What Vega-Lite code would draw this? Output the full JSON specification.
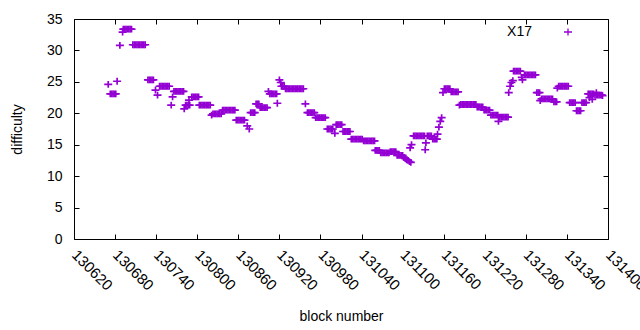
{
"$schema":"https://vega.github.io/schema/vega-lite/v6.json",
"width":534,"height":220,"autosize":"none",
"padding":{"left":74,"top":19,"right":32,"bottom":91},
"background":"white",
"config":{"view":{"stroke":"black","strokeWidth":1},"font":"Liberation Sans",
"axis":{"grid":false,"domain":false,"tickColor":"black","tickSize":-5,"labelColor":"black","titleColor":"black","labelFont":"Liberation Sans","titleFont":"Liberation Sans","labelFontSize":14,"titleFontSize":14,"titleFontWeight":"normal","labelOverlap":false,"labelFlush":false,"labelBound":false}},
"data":{"values":[
{"b":130670,"d":24.6},
{"b":130673,"d":23.1},{"b":130675,"d":23.1},{"b":130677,"d":23.1},{"b":130679,"d":23.1},{"b":130681,"d":23.1},
{"b":130683,"d":25.1},{"b":130687,"d":30.8},{"b":130691,"d":32.9},
{"b":130692,"d":33.4},{"b":130694,"d":33.4},{"b":130696,"d":33.4},{"b":130698,"d":33.4},{"b":130700,"d":33.4},{"b":130702,"d":33.4},{"b":130704,"d":33.4},
{"b":130706,"d":30.9},{"b":130708,"d":30.9},{"b":130710,"d":30.9},{"b":130712,"d":30.9},{"b":130714,"d":30.9},{"b":130716,"d":30.9},{"b":130718,"d":30.9},{"b":130720,"d":30.9},{"b":130722,"d":30.9},{"b":130724,"d":30.9},
{"b":130728,"d":25.3},{"b":130730,"d":25.3},{"b":130732,"d":25.3},{"b":130734,"d":25.3},{"b":130736,"d":25.3},
{"b":130739,"d":23.7},{"b":130742,"d":22.9},
{"b":130745,"d":24.3},{"b":130747,"d":24.3},{"b":130749,"d":24.3},{"b":130751,"d":24.3},{"b":130753,"d":24.3},{"b":130755,"d":24.3},{"b":130757,"d":24.3},{"b":130759,"d":24.3},
{"b":130762,"d":21.3},{"b":130764,"d":22.6},
{"b":130766,"d":23.5},{"b":130768,"d":23.5},{"b":130770,"d":23.5},{"b":130772,"d":23.5},{"b":130774,"d":23.5},{"b":130776,"d":23.5},{"b":130778,"d":23.5},{"b":130780,"d":23.5},
{"b":130781,"d":20.7},
{"b":130783,"d":21.3},{"b":130785,"d":21.3},{"b":130787,"d":21.3},{"b":130789,"d":21.3},
{"b":130788,"d":22.1},
{"b":130792,"d":22.6},{"b":130794,"d":22.6},{"b":130796,"d":22.6},{"b":130798,"d":22.6},{"b":130800,"d":22.6},{"b":130802,"d":22.6},
{"b":130803,"d":21.3},{"b":130805,"d":21.3},{"b":130807,"d":21.3},{"b":130809,"d":21.3},{"b":130811,"d":21.3},{"b":130813,"d":21.3},{"b":130815,"d":21.3},{"b":130817,"d":21.3},{"b":130819,"d":21.3},
{"b":130821,"d":19.7},
{"b":130823,"d":19.9},{"b":130825,"d":19.9},{"b":130827,"d":19.9},{"b":130829,"d":19.9},{"b":130831,"d":19.9},{"b":130833,"d":19.9},{"b":130835,"d":19.9},
{"b":130837,"d":20.5},{"b":130839,"d":20.5},{"b":130841,"d":20.5},{"b":130843,"d":20.5},{"b":130845,"d":20.5},{"b":130847,"d":20.5},{"b":130849,"d":20.5},{"b":130851,"d":20.5},{"b":130853,"d":20.5},{"b":130855,"d":20.5},
{"b":130857,"d":18.9},{"b":130859,"d":18.9},{"b":130861,"d":18.9},{"b":130863,"d":18.9},{"b":130865,"d":18.9},{"b":130867,"d":18.9},{"b":130869,"d":18.9},
{"b":130873,"d":18.0},{"b":130876,"d":17.5},
{"b":130878,"d":20.1},{"b":130880,"d":20.1},{"b":130882,"d":20.1},{"b":130884,"d":20.1},
{"b":130886,"d":21.5},{"b":130888,"d":21.5},{"b":130890,"d":21.5},
{"b":130892,"d":20.9},{"b":130894,"d":20.9},{"b":130896,"d":20.9},{"b":130898,"d":20.9},{"b":130900,"d":20.9},{"b":130902,"d":20.9},
{"b":130904,"d":23.5},
{"b":130906,"d":23.1},{"b":130908,"d":23.1},{"b":130910,"d":23.1},{"b":130912,"d":23.1},{"b":130914,"d":23.1},{"b":130916,"d":23.1},
{"b":130917,"d":21.6},{"b":130920,"d":25.3},{"b":130922,"d":24.9},
{"b":130923,"d":24.3},{"b":130925,"d":24.3},{"b":130927,"d":24.3},
{"b":130929,"d":23.9},{"b":130931,"d":23.9},{"b":130933,"d":23.9},{"b":130935,"d":23.9},{"b":130937,"d":23.9},{"b":130939,"d":23.9},{"b":130941,"d":23.9},{"b":130943,"d":23.9},{"b":130945,"d":23.9},{"b":130947,"d":23.9},{"b":130949,"d":23.9},{"b":130951,"d":23.9},{"b":130953,"d":23.9},{"b":130955,"d":23.9},
{"b":130958,"d":21.5},
{"b":130961,"d":20.1},{"b":130963,"d":20.1},{"b":130965,"d":20.1},{"b":130967,"d":20.1},{"b":130969,"d":20.1},{"b":130971,"d":20.1},
{"b":130973,"d":19.3},{"b":130975,"d":19.3},{"b":130977,"d":19.3},{"b":130979,"d":19.3},{"b":130981,"d":19.3},{"b":130983,"d":19.3},{"b":130985,"d":19.3},{"b":130987,"d":19.3},
{"b":130990,"d":17.5},{"b":130992,"d":17.5},{"b":130994,"d":17.5},{"b":130996,"d":17.5},{"b":130998,"d":17.5},
{"b":131001,"d":16.8},
{"b":131003,"d":18.2},{"b":131005,"d":18.2},{"b":131007,"d":18.2},{"b":131009,"d":18.2},{"b":131011,"d":18.2},
{"b":131013,"d":17.1},{"b":131015,"d":17.1},{"b":131017,"d":17.1},{"b":131019,"d":17.1},{"b":131021,"d":17.1},{"b":131023,"d":17.1},
{"b":131025,"d":15.9},{"b":131027,"d":15.9},{"b":131029,"d":15.9},{"b":131031,"d":15.9},{"b":131033,"d":15.9},{"b":131035,"d":15.9},{"b":131037,"d":15.9},{"b":131039,"d":15.9},{"b":131041,"d":15.9},
{"b":131043,"d":15.6},{"b":131045,"d":15.6},{"b":131047,"d":15.6},{"b":131049,"d":15.6},{"b":131051,"d":15.6},{"b":131053,"d":15.6},{"b":131055,"d":15.6},{"b":131057,"d":15.6},{"b":131059,"d":15.6},
{"b":131060,"d":14.1},{"b":131062,"d":14.1},{"b":131064,"d":14.1},{"b":131066,"d":14.1},
{"b":131068,"d":13.7},{"b":131070,"d":13.7},{"b":131072,"d":13.7},{"b":131074,"d":13.7},{"b":131076,"d":13.7},{"b":131078,"d":13.7},{"b":131080,"d":13.7},
{"b":131082,"d":13.9},{"b":131084,"d":13.9},{"b":131086,"d":13.9},{"b":131088,"d":13.9},{"b":131090,"d":13.9},
{"b":131092,"d":13.3},{"b":131094,"d":13.3},{"b":131096,"d":13.3},{"b":131098,"d":13.3},{"b":131100,"d":13.3},
{"b":131102,"d":13.0},{"b":131104,"d":12.8},{"b":131106,"d":12.6},{"b":131108,"d":12.5},{"b":131110,"d":12.3},{"b":131112,"d":12.2},
{"b":131111,"d":14.5},{"b":131113,"d":15.0},
{"b":131116,"d":16.4},{"b":131118,"d":16.4},{"b":131120,"d":16.4},{"b":131122,"d":16.4},{"b":131124,"d":16.4},{"b":131126,"d":16.4},{"b":131128,"d":16.4},{"b":131130,"d":16.4},{"b":131132,"d":16.4},
{"b":131133,"d":14.2},{"b":131134,"d":15.3},
{"b":131136,"d":16.4},{"b":131138,"d":16.4},{"b":131140,"d":16.4},{"b":131142,"d":16.4},
{"b":131144,"d":15.9},{"b":131146,"d":15.9},{"b":131148,"d":15.9},{"b":131150,"d":15.9},
{"b":131151,"d":16.7},{"b":131153,"d":17.8},{"b":131155,"d":18.7},{"b":131157,"d":19.3},
{"b":131159,"d":23.3},
{"b":131161,"d":23.9},{"b":131163,"d":23.9},{"b":131165,"d":23.9},{"b":131167,"d":23.9},{"b":131169,"d":23.9},
{"b":131171,"d":23.4},{"b":131173,"d":23.4},{"b":131175,"d":23.4},{"b":131177,"d":23.4},{"b":131179,"d":23.4},{"b":131181,"d":23.4},
{"b":131183,"d":21.3},
{"b":131185,"d":21.4},{"b":131187,"d":21.4},{"b":131189,"d":21.4},{"b":131191,"d":21.4},{"b":131193,"d":21.4},{"b":131195,"d":21.4},{"b":131197,"d":21.4},{"b":131199,"d":21.4},{"b":131201,"d":21.4},{"b":131203,"d":21.4},{"b":131205,"d":21.4},{"b":131207,"d":21.4},
{"b":131209,"d":21.0},{"b":131211,"d":21.0},{"b":131213,"d":21.0},{"b":131215,"d":21.0},{"b":131217,"d":21.0},
{"b":131219,"d":20.5},{"b":131221,"d":20.5},{"b":131223,"d":20.5},{"b":131225,"d":20.5},{"b":131227,"d":20.5},
{"b":131229,"d":19.7},{"b":131231,"d":19.7},{"b":131233,"d":19.7},{"b":131235,"d":19.7},{"b":131237,"d":19.7},{"b":131239,"d":19.7},
{"b":131240,"d":18.7},
{"b":131242,"d":19.4},{"b":131244,"d":19.4},{"b":131246,"d":19.4},{"b":131248,"d":19.4},{"b":131250,"d":19.4},{"b":131252,"d":19.4},{"b":131254,"d":19.4},
{"b":131255,"d":23.3},{"b":131257,"d":24.3},{"b":131259,"d":24.9},{"b":131261,"d":25.2},
{"b":131262,"d":26.7},{"b":131264,"d":26.7},{"b":131266,"d":26.7},{"b":131268,"d":26.7},{"b":131270,"d":26.7},{"b":131272,"d":26.7},
{"b":131274,"d":25.7},{"b":131275,"d":25.3},
{"b":131278,"d":26.1},{"b":131280,"d":26.1},{"b":131282,"d":26.1},{"b":131284,"d":26.1},{"b":131286,"d":26.1},{"b":131288,"d":26.1},{"b":131290,"d":26.1},{"b":131292,"d":26.1},{"b":131294,"d":26.1},
{"b":131296,"d":23.3},{"b":131298,"d":23.3},{"b":131300,"d":23.3},
{"b":131301,"d":22.0},
{"b":131303,"d":22.3},{"b":131305,"d":22.3},{"b":131307,"d":22.3},{"b":131309,"d":22.3},{"b":131311,"d":22.3},{"b":131313,"d":22.3},{"b":131315,"d":22.3},{"b":131317,"d":22.3},{"b":131319,"d":22.3},
{"b":131321,"d":21.8},{"b":131323,"d":21.8},{"b":131325,"d":21.8},
{"b":131326,"d":24.0},
{"b":131328,"d":24.3},{"b":131330,"d":24.3},{"b":131332,"d":24.3},{"b":131334,"d":24.3},{"b":131336,"d":24.3},{"b":131338,"d":24.3},{"b":131340,"d":24.3},{"b":131342,"d":24.3},
{"b":131344,"d":21.7},{"b":131346,"d":21.7},{"b":131348,"d":21.7},{"b":131350,"d":21.7},{"b":131352,"d":21.7},
{"b":131354,"d":20.4},{"b":131356,"d":20.4},{"b":131358,"d":20.4},{"b":131360,"d":20.4},
{"b":131362,"d":21.7},{"b":131364,"d":21.7},{"b":131366,"d":21.7},{"b":131368,"d":21.7},
{"b":131371,"d":23.1},{"b":131373,"d":23.1},{"b":131375,"d":23.1},{"b":131377,"d":23.1},{"b":131379,"d":23.1},
{"b":131373,"d":22.5},{"b":131377,"d":22.2},
{"b":131381,"d":22.9},{"b":131383,"d":22.9},{"b":131385,"d":22.9},{"b":131387,"d":22.9},{"b":131389,"d":22.9},{"b":131391,"d":22.9},
{"b":131383,"d":23.3},{"b":131392,"d":22.8}
]},
"layer":[
{"mark":{"type":"point","shape":"M-1,0H1M0,-0.85V0.85","filled":false,"size":64,"strokeWidth":1.7,"opacity":1},
"encoding":{
"x":{"field":"b","type":"quantitative","scale":{"domain":[130620,131400],"nice":false,"zero":false},
"axis":{"orient":"bottom","values":[130620,130680,130740,130800,130860,130920,130980,131040,131100,131160,131220,131280,131340,131400],"format":"d","labelAngle":45,"labelAlign":"left","labelBaseline":"middle","labelFontSize":15,"labelPadding":18,"title":"block number","titlePadding":16}},
"y":{"field":"d","type":"quantitative","scale":{"domain":[0,35],"nice":false,"zero":false},
"axis":{"orient":"left","values":[0,5,10,15,20,25,30,35],"labelPadding":17,"title":"difficulty","titlePadding":22}},
"color":{"datum":"X17","type":"nominal","scale":{"range":["#9400D3"]},
"legend":{"title":null,"orient":"none","legendX":487,"legendY":6,"padding":0,"symbolType":"M-1,0H1M0,-0.85V0.85","symbolSize":64,"symbolStrokeWidth":1.3,"symbolFillColor":"transparent","labelFontSize":14,"labelFont":"Liberation Sans","labelAlign":"right","labelOffset":-43,"labelColor":"black"}}}},
{"mark":{"type":"point","opacity":0},
"encoding":{
"x":{"field":"b","type":"quantitative","scale":{"domain":[130620,131400],"nice":false,"zero":false},
"axis":{"orient":"top","values":[130620,130680,130740,130800,130860,130920,130980,131040,131100,131160,131220,131280,131340,131400],"labels":false,"title":null}},
"y":{"field":"d","type":"quantitative","scale":{"domain":[0,35],"nice":false,"zero":false},
"axis":{"orient":"right","values":[0,5,10,15,20,25,30,35],"labels":false,"title":null}}}}
],
"resolve":{"axis":{"x":"independent","y":"independent"}}
}
